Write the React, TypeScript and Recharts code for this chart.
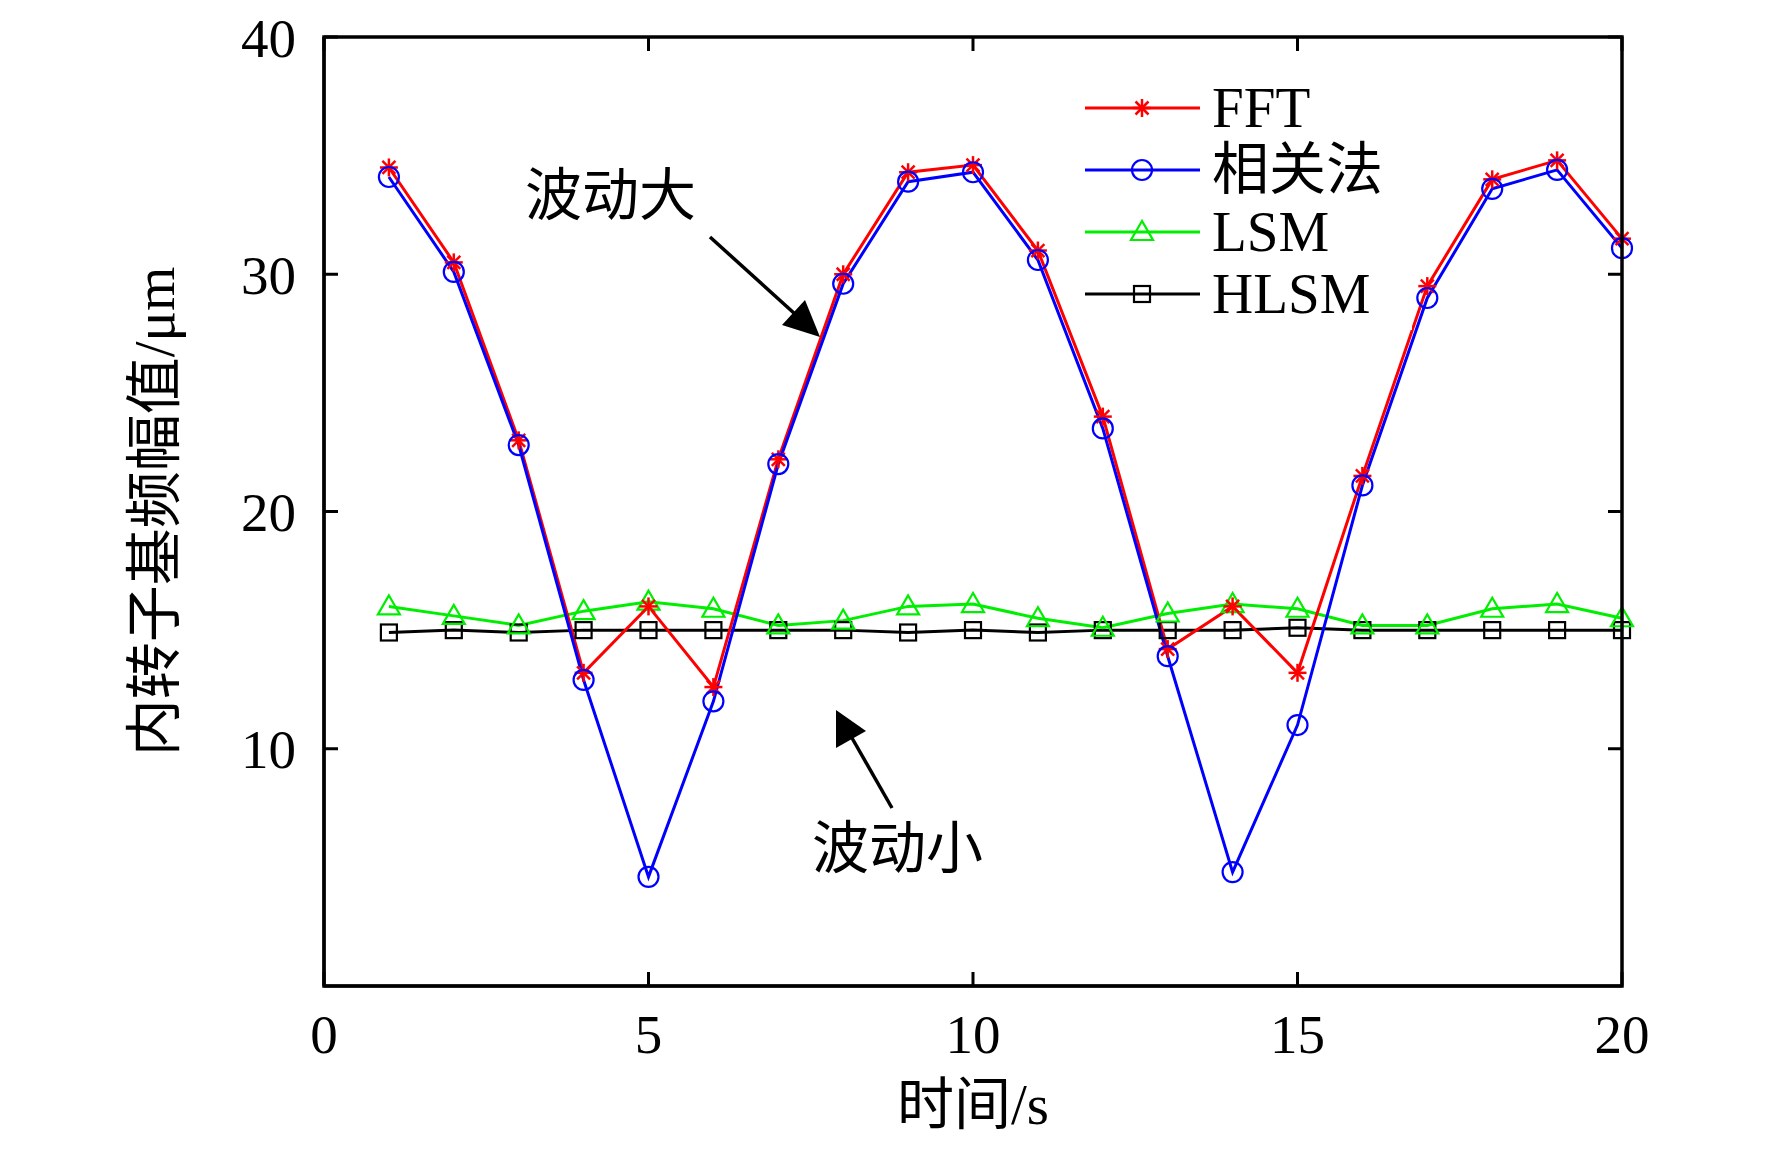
import { LineChart, Line, XAxis, YAxis, Label } from 'recharts'

const times = [1, 2, 3, 4, 5, 6, 7, 8, 9, 10, 11, 12, 13, 14, 15, 16, 17, 18, 19, 20]
const fftValues = [34.5, 30.5, 23, 13.2, 16, 12.6, 22.2, 30, 34.3, 34.6, 31, 24, 14.2, 16, 13.2, 21.5, 29.5, 34, 34.8, 31.5]
const corrValues = [34.1, 30.1, 22.8, 12.9, 4.6, 12, 22, 29.6, 33.9, 34.3, 30.6, 23.5, 13.9, 4.8, 11, 21.1, 29, 33.6, 34.4, 31.1]
const lsmValues = [16, 15.6, 15.2, 15.8, 16.2, 15.9, 15.2, 15.4, 16, 16.1, 15.5, 15.1, 15.7, 16.1, 15.9, 15.2, 15.2, 15.9, 16.1, 15.5]
const hlsmValues = [14.9, 15, 14.9, 15, 15, 15, 15, 15, 14.9, 15, 14.9, 15, 15, 15, 15.1, 15, 15, 15, 15, 15]
const xTicks = [0, 5, 10, 15, 20]
const yTicks = [10, 20, 30, 40]

const data = times.map((t, i) => ({
  t,
  fft: fftValues[i],
  corr: corrValues[i],
  lsm: lsmValues[i],
  hlsm: hlsmValues[i],
}))

// plot box (matches chart margins)
const PL = 324, PR = 1622, PT = 37, PB = 986
const sx = (v: number) => PL + (v / 20) * (PR - PL)
const sy = (v: number) => PB - (v / 40) * (PB - PT)

const serif = '"Liberation Serif", "Times New Roman", serif'
const cjk = '"Liberation Serif", "Noto Sans CJK SC", serif'

const Star = ({ cx, cy, color = '#ff0000' }: any) => (
  <g stroke={color} strokeWidth={2.5}>
    <line x1={cx - 9} y1={cy} x2={cx + 9} y2={cy} />
    <line x1={cx} y1={cy - 9} x2={cx} y2={cy + 9} />
    <line x1={cx - 6.5} y1={cy - 6.5} x2={cx + 6.5} y2={cy + 6.5} />
    <line x1={cx - 6.5} y1={cy + 6.5} x2={cx + 6.5} y2={cy - 6.5} />
  </g>
)
const Circle = ({ cx, cy }: any) => (
  <circle cx={cx} cy={cy} r={10} fill="none" stroke="#0000ff" strokeWidth={2.2} />
)
const Tri = ({ cx, cy }: any) => (
  <polygon points={`${cx},${cy - 11} ${cx - 11},${cy + 8} ${cx + 11},${cy + 8}`} fill="none" stroke="#00ee00" strokeWidth={2.2} />
)
const Sq = ({ cx, cy }: any) => (
  <rect x={cx - 8} y={cy - 8} width={16} height={16} fill="none" stroke="#000" strokeWidth={2.2} />
)

const legendItems = [
  { name: 'FFT', color: '#ff0000', Marker: Star },
  { name: '相关法', color: '#0000ff', Marker: Circle },
  { name: 'LSM', color: '#00ee00', Marker: Tri },
  { name: 'HLSM', color: '#000000', Marker: Sq },
]

const tickStyle = { fontSize: 55, fill: '#000', fontFamily: serif }

export default function App() {
  return (
    <div style={{ position: 'absolute', left: 0, top: 0, width: 1772, height: 1162, background: '#fff' }}>
      <LineChart width={1772} height={1162} data={data} margin={{ top: PT, right: 1772 - PR, bottom: 76, left: 224 }}>
        <XAxis dataKey="t" type="number" domain={[0, 20]} ticks={xTicks} tick={tickStyle}
          stroke="#000" strokeWidth={3} tickLine={false} tickMargin={22} height={100}>
          <Label value="时间/s" position="bottom" offset={-2} style={{ fontSize: 57, fill: '#000', fontFamily: cjk }} />
        </XAxis>
        <YAxis domain={[0, 40]} ticks={yTicks} tick={tickStyle} stroke="#000" strokeWidth={3}
          tickLine={false} tickMargin={22} width={100}>
          <Label value="内转子基频幅值/μm" angle={-90} position="left" offset={70} style={{ fontSize: 57, fill: '#000', fontFamily: cjk, textAnchor: 'middle' }} />
        </YAxis>
        <Line dataKey="hlsm" stroke="#000" strokeWidth={3} dot={<Sq />} isAnimationActive={false} />
        <Line dataKey="lsm" stroke="#00ee00" strokeWidth={3} dot={<Tri />} isAnimationActive={false} />
        <Line dataKey="fft" stroke="#ff0000" strokeWidth={3} dot={<Star />} isAnimationActive={false} />
        <Line dataKey="corr" stroke="#0000ff" strokeWidth={3} dot={<Circle />} isAnimationActive={false} />
      </LineChart>
      <svg width={1772} height={1162} style={{ position: 'absolute', left: 0, top: 0, pointerEvents: 'none' }}>
        <rect x={PL} y={PT} width={PR - PL} height={PB - PT} fill="none" stroke="#000" strokeWidth={3.5} />
        {xTicks.map((v) => (
          <g key={'x' + v}>
            <line x1={sx(v)} x2={sx(v)} y1={PB} y2={PB - 14} stroke="#000" strokeWidth={3} />
            <line x1={sx(v)} x2={sx(v)} y1={PT} y2={PT + 14} stroke="#000" strokeWidth={3} />
          </g>
        ))}
        {yTicks.map((v) => (
          <g key={'y' + v}>
            <line x1={PL} x2={PL + 14} y1={sy(v)} y2={sy(v)} stroke="#000" strokeWidth={3} />
            <line x1={PR} x2={PR - 14} y1={sy(v)} y2={sy(v)} stroke="#000" strokeWidth={3} />
          </g>
        ))}
        <rect x={1082} y={80} width={330} height={250} fill="#fff" />
        {legendItems.map((it, i) => (
          <g key={it.name}>
            <line x1={1085} x2={1200} y1={108 + i * 62} y2={108 + i * 62} stroke={it.color} strokeWidth={3} />
            <it.Marker cx={1142} cy={108 + i * 62} />
            <text x={1212} y={108 + i * 62 + 19} fontSize={57} fontFamily={cjk}>{it.name}</text>
          </g>
        ))}
        <text x={525} y={215} fontSize={57} fontFamily={cjk}>波动大</text>
        <line x1={710} y1={237} x2={795} y2={314} stroke="#000" strokeWidth={3.5} />
        <polygon points="820,337 782,325 805,300" fill="#000" />
        <text x={812} y={868} fontSize={57} fontFamily={cjk}>波动小</text>
        <line x1={892} y1={808} x2={852} y2={738} stroke="#000" strokeWidth={3.5} />
        <polygon points="836,710 836,748 866,731" fill="#000" />
      </svg>
    </div>
  )
}
